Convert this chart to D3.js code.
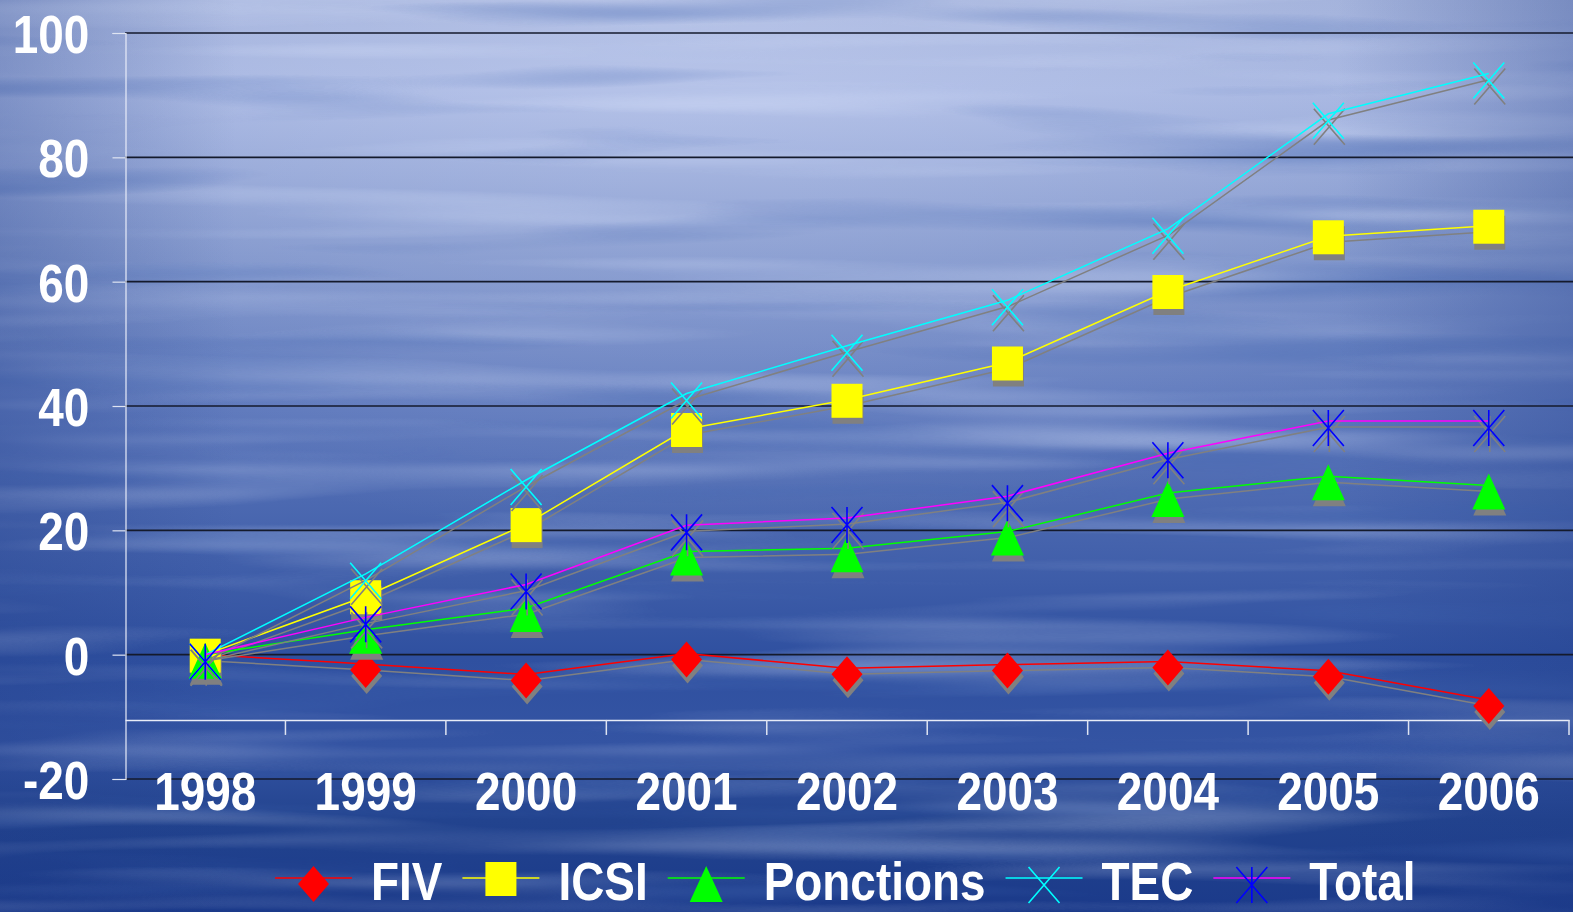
<!DOCTYPE html>
<html>
<head>
<meta charset="utf-8">
<script src="https://cdn.jsdelivr.net/npm/d3@7"></script>
<style>
  html, body { margin: 0; padding: 0; overflow: hidden; background: #1d3c8a; }
  text { font-family: "Liberation Sans", Arial, sans-serif; font-weight: bold; fill: #fff; }
</style>
</head>
<body>
<script>
// Data

const years = ['1998', '1999', '2000', '2001', '2002', '2003', '2004', '2005', '2006'];
const fivValues = [0, -1.5, -3.2, 0.2, -2.2, -1.6, -1.1, -2.6, -7.3];
const icsiValues = [0, 9.4, 21, 36.3, 41, 47, 58.5, 67.3, 69];
const ponctionsValues = [0, 4, 7.5, 16.6, 17.1, 19.8, 26, 28.7, 27.2];
const tecValues = [0, 13, 28.1, 42, 49.7, 57, 68.5, 87, 93.5];
const totalValues = [0, 6, 11.3, 20.8, 22, 25.5, 32.4, 37.6, 37.6];
const yTicks = [-20, 0, 20, 40, 60, 80, 100];

const seriesNames = ['FIV', 'ICSI', 'Ponctions', 'TEC', 'Total'];
const seriesValues = [fivValues, icsiValues, ponctionsValues, tecValues, totalValues];
const lineColors = ['#ff0000', '#ffff00', '#00ff00', '#00ffff', '#ff00ff'];
const markerColors = ['#ff0000', '#ffff00', '#00ff00', '#00ffff', '#0000ff'];
const markerTypes = ['diamond', 'square', 'triangle', 'x', 'asterisk'];

// Chart setup
const width = 1573;
const height = 912;
const fontSize = 54;
const squeeze = 0.85;   // the labels are a narrow bold face

const svg = d3.select('body')
  .append('svg')
  .attr('width', width)
  .attr('height', height);

const x = d3.scaleBand().domain(years).range([125, 1569]);
const y = d3.scaleLinear().domain([-20, 100]).range([779, 33]);
const cx = d => x(d) + x.bandwidth() / 2;

// Background (water-like blue)
const defs = svg.append('defs');
const bg = defs.append('linearGradient').attr('id', 'bg')
  .attr('x1', 0).attr('y1', 0).attr('x2', 0).attr('y2', 1);
[[0, '#9dadd8'], [0.1, '#a3b3df'], [0.28, '#7c92c9'], [0.45, '#5c77bb'],
 [0.6, '#4462ac'], [0.72, '#2f50a0'], [0.82, '#3454a3'], [0.9, '#22438e'], [1, '#1b3a8a']]
  .forEach(s => bg.append('stop').attr('offset', s[0]).attr('stop-color', s[1]));

const glow = defs.append('radialGradient').attr('id', 'glow')
  .attr('cx', 0.45).attr('cy', 0).attr('r', 0.6);
glow.append('stop').attr('offset', 0).attr('stop-color', '#dfe6ff').attr('stop-opacity', 0.35);
glow.append('stop').attr('offset', 1).attr('stop-color', '#dfe6ff').attr('stop-opacity', 0);

const side = defs.append('linearGradient').attr('id', 'side')
  .attr('x1', 0).attr('y1', 0).attr('x2', 1).attr('y2', 0);
side.append('stop').attr('offset', 0).attr('stop-color', '#1f3c88').attr('stop-opacity', 0.3);
side.append('stop').attr('offset', 0.15).attr('stop-color', '#1f3c88').attr('stop-opacity', 0);
side.append('stop').attr('offset', 0.85).attr('stop-color', '#1f3c88').attr('stop-opacity', 0);
side.append('stop').attr('offset', 1).attr('stop-color', '#1f3c88').attr('stop-opacity', 0.3);

const light = defs.append('filter').attr('id', 'lightStreaks')
  .attr('x', 0).attr('y', 0).attr('width', 1).attr('height', 1);
light.append('feTurbulence').attr('type', 'fractalNoise')
  .attr('baseFrequency', '0.0015 0.035').attr('numOctaves', 2).attr('seed', 4);
light.append('feColorMatrix').attr('type', 'matrix')
  .attr('values', '0 0 0 0 0.75  0 0 0 0 0.82  0 0 0 0 1  2.2 0 0 0 -1.05');

const dark = defs.append('filter').attr('id', 'darkStreaks')
  .attr('x', 0).attr('y', 0).attr('width', 1).attr('height', 1);
dark.append('feTurbulence').attr('type', 'fractalNoise')
  .attr('baseFrequency', '0.002 0.03').attr('numOctaves', 2).attr('seed', 11);
dark.append('feColorMatrix').attr('type', 'matrix')
  .attr('values', '0 0 0 0 0.06  0 0 0 0 0.14  0 0 0 0 0.45  -2.2 0 0 0 1.0');

svg.append('rect').attr('width', width).attr('height', height).attr('fill', 'url(#bg)');
svg.append('rect').attr('width', width).attr('height', height).attr('fill', 'url(#glow)');
svg.append('rect').attr('width', width).attr('height', height)
  .attr('filter', 'url(#lightStreaks)').attr('opacity', 0.4);
svg.append('rect').attr('width', width).attr('height', height)
  .attr('filter', 'url(#darkStreaks)').attr('opacity', 0.55);
svg.append('rect').attr('width', width).attr('height', height).attr('fill', 'url(#side)');

// Gridlines
svg.append('g')
  .selectAll('line')
  .data(yTicks)
  .enter().append('line')
  .attr('x1', 125).attr('x2', width)
  .attr('y1', d => y(d)).attr('y2', d => y(d))
  .attr('stroke', '#141a2c').attr('stroke-width', 1.6);

// Y axis
const yAxis = svg.append('g')
  .attr('transform', 'translate(125.5,0)')
  .call(d3.axisLeft(y).tickValues(yTicks).tickFormat(d => String(d)).tickSize(13).tickPadding(29.5));
yAxis.select('.domain').attr('stroke', '#e8ecf8').attr('stroke-width', 1.2);
yAxis.selectAll('.tick line').attr('stroke', '#dfe4f2').attr('stroke-width', 1.2);
yAxis.selectAll('.tick text')
  .attr('font-size', fontSize)
  .attr('font-family', null)
  .attr('fill', '#fff')
  .attr('dy', '0.36em')
  .attr('transform', `scale(${squeeze},1)`);

// X axis (crosses at -10.5)
const xAxisY = y(-10.5);
const xAxis = svg.append('g')
  .attr('transform', `translate(0,${xAxisY})`)
  .call(d3.axisBottom(x).tickSize(0).tickPadding(0));
xAxis.select('.domain').attr('stroke', '#e8ecf8').attr('stroke-width', 1.5);
xAxis.selectAll('.tick text')
  .attr('font-size', fontSize)
  .attr('font-family', null)
  .attr('fill', '#fff')
  .attr('y', 810 - xAxisY)
  .attr('dy', 0)
  .attr('transform', `scale(${squeeze},1)`);

// Ticks between categories
xAxis.append('g')
  .selectAll('line')
  .data(years.slice(1).concat(['end']))
  .enter().append('line')
  .attr('x1', d => d === 'end' ? x.range()[1] : x(d))
  .attr('x2', d => d === 'end' ? x.range()[1] : x(d))
  .attr('y1', 0).attr('y2', 15)
  .attr('stroke', '#dfe4f2').attr('stroke-width', 1.5);

// Markers
const markerW = 31;
const markerH = 36;
const markerDrop = { diamond: 6, square: 2, triangle: 6, x: 7, asterisk: 7 };

function drawMarker(g, type, px, py, color) {
  const w = markerW / 2;
  const h = markerH / 2;
  py += markerDrop[type];
  if (type === 'diamond') {
    g.append('path')
      .attr('d', `M${px},${py - h}L${px + w},${py}L${px},${py + h}L${px - w},${py}Z`)
      .attr('fill', color);
  } else if (type === 'square') {
    g.append('rect')
      .attr('x', px - w).attr('y', py - h)
      .attr('width', markerW).attr('height', markerH - 2)
      .attr('fill', color);
  } else if (type === 'triangle') {
    g.append('path')
      .attr('d', `M${px},${py - h}L${px + w + 1},${py + h}L${px - w - 1},${py + h}Z`)
      .attr('fill', color);
  } else {
    g.append('path')
      .attr('d', `M${px - w},${py - h}L${px + w},${py + h}M${px + w},${py - h}L${px - w},${py + h}` +
        (type === 'asterisk' ? `M${px},${py - h}L${px},${py + h}` : ''))
      .attr('fill', 'none')
      .attr('stroke', color)
      .attr('stroke-width', 1.6);
  }
}

const line = d3.line()
  .x(d => cx(d.year))
  .y(d => y(d.value));

const series = seriesNames.map((name, i) => ({
  name: name,
  lineColor: lineColors[i],
  markerColor: markerColors[i],
  type: markerTypes[i],
  points: years.map((yr, j) => ({ year: yr, value: seriesValues[i][j] }))
}));

const plot = svg.append('g');

series.forEach(s => {
  // shadow
  const shadow = plot.append('g').attr('transform', 'translate(1,6)');
  shadow.append('path')
    .attr('d', line(s.points))
    .attr('fill', 'none')
    .attr('stroke', '#808080')
    .attr('stroke-width', 1.5);
  s.points.forEach(p => drawMarker(shadow, s.type, cx(p.year), y(p.value), '#808080'));

  // series
  const g = plot.append('g');
  g.append('path')
    .attr('d', line(s.points))
    .attr('fill', 'none')
    .attr('stroke', s.lineColor)
    .attr('stroke-width', 1.5);
  s.points.forEach(p => drawMarker(g, s.type, cx(p.year), y(p.value), s.markerColor));
});

// Legend
const legendY = 878;
const legend = svg.append('g');
let lx = 275;
series.forEach(s => {
  const item = legend.append('g');
  item.append('line')
    .attr('x1', lx).attr('x2', lx + 77)
    .attr('y1', legendY).attr('y2', legendY)
    .attr('stroke', s.lineColor).attr('stroke-width', 1.5);
  drawMarker(item, s.type, lx + 38.5, legendY, s.markerColor);
  const tx = lx + 96;
  const t = item.append('text')
    .attr('transform', `translate(${tx},${legendY + 22}) scale(${squeeze},1)`)
    .attr('font-size', fontSize)
    .text(s.name);
  lx = tx + t.node().getComputedTextLength() * squeeze + 20;
});
</script>
</body>
</html>
